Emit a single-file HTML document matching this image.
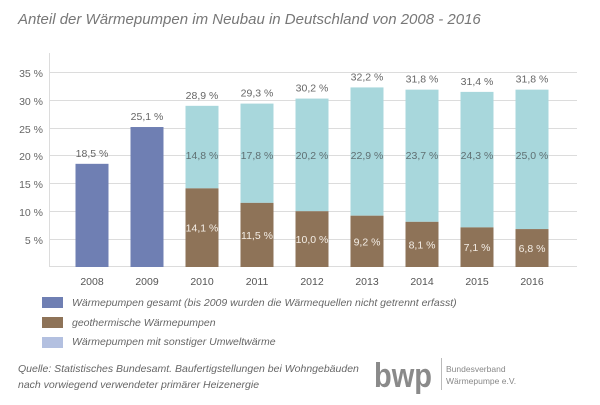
<!DOCTYPE html>
<html><head><meta charset="utf-8"><style>
html,body{margin:0;padding:0;background:#fff}
svg text{font-family:"Liberation Sans",sans-serif}
</style></head><body>
<svg width="600" height="400" viewBox="0 0 600 400" xmlns="http://www.w3.org/2000/svg">
<text x="18" y="24" font-size="15" font-style="italic" fill="#777">Anteil der Wärmepumpen im Neubau in Deutschland von 2008 - 2016</text>
<g stroke="#dcdcdc" stroke-width="1">
<line x1="49" y1="72.5" x2="577" y2="72.5"/>
<line x1="49" y1="100.5" x2="577" y2="100.5"/>
<line x1="49" y1="128.5" x2="577" y2="128.5"/>
<line x1="49" y1="155.5" x2="577" y2="155.5"/>
<line x1="49" y1="183.5" x2="577" y2="183.5"/>
<line x1="49" y1="211.5" x2="577" y2="211.5"/>
<line x1="49" y1="239.5" x2="577" y2="239.5"/>
<line x1="49" y1="266.5" x2="577" y2="266.5"/>
<line x1="49.5" y1="53" x2="49.5" y2="267"/>
</g>
<g font-size="10.5" fill="#666" text-anchor="end">
<text x="43" y="77">35 %</text><text x="43" y="105">30 %</text><text x="43" y="133">25 %</text><text x="43" y="160">20 %</text><text x="43" y="188">15 %</text><text x="43" y="216">10 %</text><text x="43" y="244">5 %</text>
</g>
<g id="bars"></g>
<g font-size="10.5" fill="#555" text-anchor="middle">
<text x="92" y="285">2008</text><text x="147" y="285">2009</text><text x="202" y="285">2010</text><text x="257" y="285">2011</text><text x="312" y="285">2012</text><text x="367" y="285">2013</text><text x="422" y="285">2014</text><text x="477" y="285">2015</text><text x="532" y="285">2016</text>
</g>
<rect x="42" y="297" width="21" height="11" fill="#6f7fb3"/>
<rect x="42" y="317" width="21" height="11" fill="#8e7358"/>
<rect x="42" y="337" width="21" height="11" fill="#b3c0e0"/>
<g font-size="10.5" font-style="italic" fill="#666">
<text x="72" y="306">Wärmepumpen gesamt (bis 2009 wurden die Wärmequellen nicht getrennt erfasst)</text>
<text x="72" y="326">geothermische Wärmepumpen</text>
<text x="72" y="345">Wärmepumpen mit sonstiger Umweltwärme</text>
<text x="18" y="372">Quelle: Statistisches Bundesamt. Baufertigstellungen bei Wohngebäuden</text>
<text x="18" y="388">nach vorwiegend verwendeter primärer Heizenergie</text>
</g>
<text x="432" y="387" font-size="34" font-weight="bold" fill="#8a8a8a" text-anchor="end" textLength="58" lengthAdjust="spacingAndGlyphs">bwp</text>
<line x1="441.5" y1="358" x2="441.5" y2="390" stroke="#bbb"/>
<text x="446" y="372" font-size="8.5" fill="#888">Bundesverband</text>
<text x="446" y="384" font-size="8.5" fill="#888">Wärmepumpe e.V.</text>
<script>
var k=5.577,b=267,g=document.getElementById('bars'),ns='http://www.w3.org/2000/svg';
function r(x,y,w,h,c){var e=document.createElementNS(ns,'rect');e.setAttribute('x',x);e.setAttribute('y',y);e.setAttribute('width',w);e.setAttribute('height',h);e.setAttribute('fill',c);g.appendChild(e);}
function t(x,y,s,c){var e=document.createElementNS(ns,'text');e.setAttribute('x',x);e.setAttribute('y',y);e.setAttribute('font-size','10.5');e.setAttribute('fill',c);e.setAttribute('text-anchor','middle');e.textContent=s;g.appendChild(e);}
function f(v){return v.toFixed(1).replace('.',',')+' %';}
var d=[[18.5],[25.1],[28.9,14.1,14.8],[29.3,11.5,17.8],[30.2,10.0,20.2],[32.2,9.2,22.9],[31.8,8.1,23.7],[31.4,7.1,24.3],[31.8,6.8,25.0]];
d.forEach(function(a,i){var cx=92+55*i,x=cx-16.5,tot=a[0],top=b-tot*k;
 if(a.length==1){r(x,top,33,b-top,'#6f7fb3');}
 else{var gt=b-a[1]*k;r(x,top,33,gt-top,'#a8d7dc');r(x,gt,33,b-gt,'#8e7358');
  t(cx,159,f(a[2]),'#5f6f72');t(cx,(gt+b)/2+4,f(a[1]),'#f4eee6');}
 t(cx,top-7,f(tot),'#666');});
</script>
</svg>
</body></html>
